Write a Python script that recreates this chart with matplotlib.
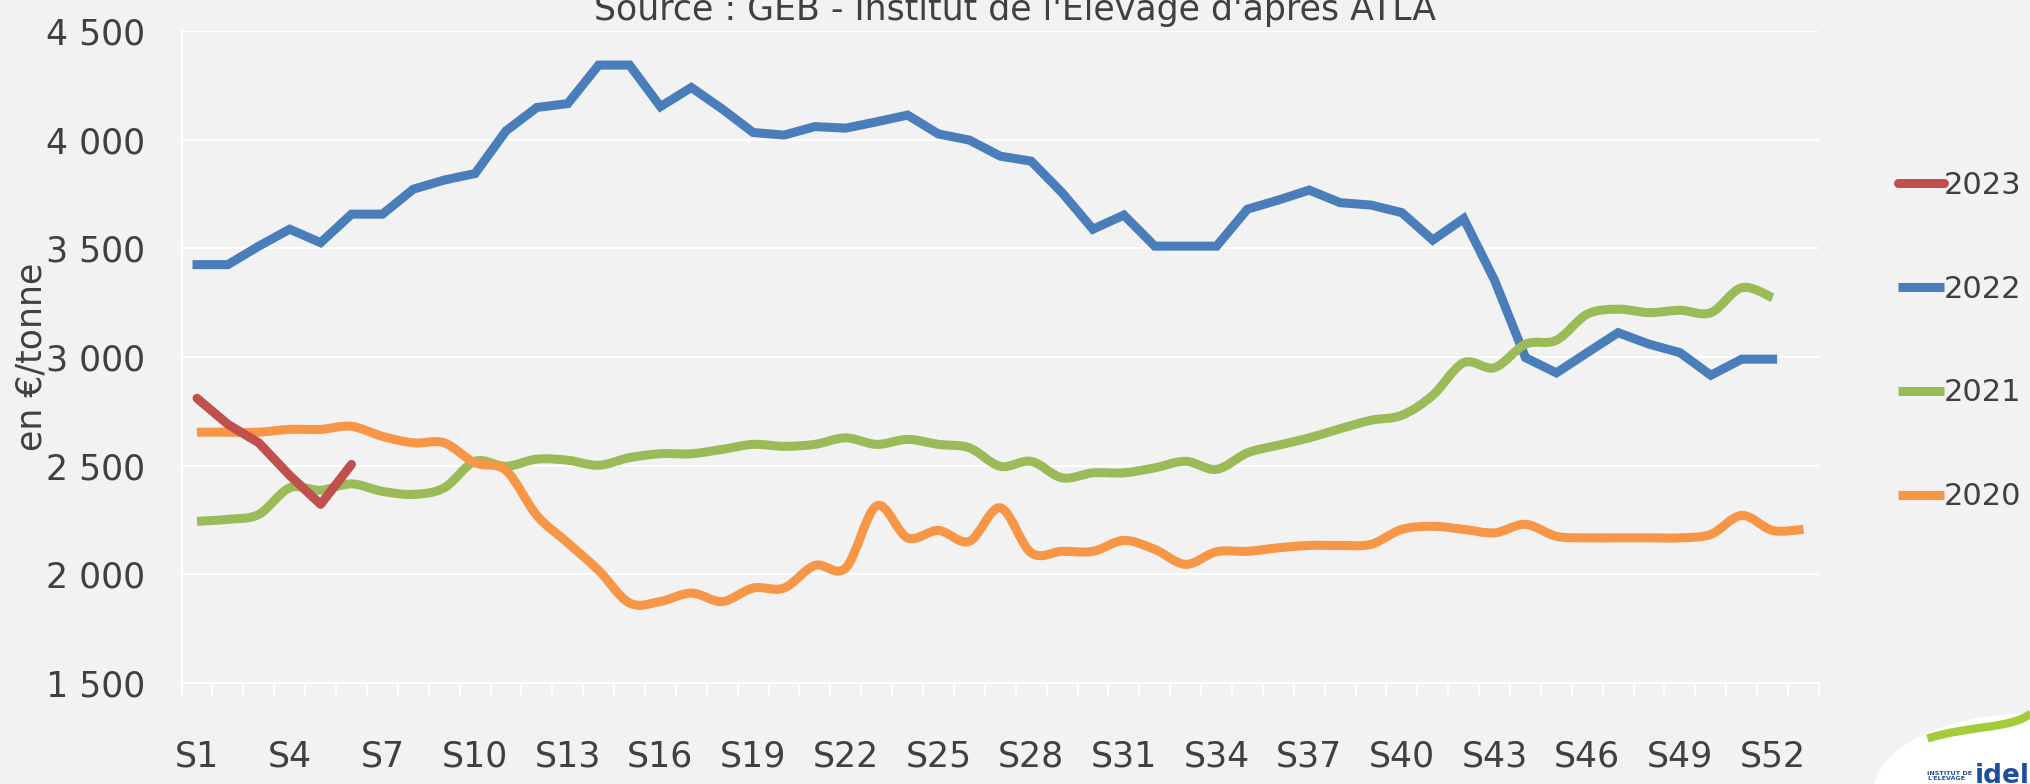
import numpy as np
import matplotlib
matplotlib.use('Agg')
import matplotlib.pyplot as plt
from matplotlib.path import Path
from matplotlib.patches import PathPatch, Ellipse
from matplotlib.lines import Line2D
from matplotlib.ticker import FuncFormatter

# weekly prices, en EUR/tonne
weeks = [f'S{i}' for i in range(1, 54)]

y2023 = [2810, 2690, 2605, 2455, 2322, 2506]

y2022 = [3425, 3425, 3510, 3588, 3526, 3657, 3657, 3772, 3814, 3844,
         4040, 4148, 4166, 4343, 4343, 4152, 4240, 4141, 4033, 4021,
         4060, 4053, 4082, 4113, 4026, 3998, 3924, 3901, 3756, 3588,
         3653, 3510, 3510, 3510, 3680, 3722, 3768, 3710, 3699, 3664,
         3538, 3637, 3353, 2997, 2927, 3020, 3112, 3059, 3020, 2916,
         2990, 2990]

y2021 = [2244, 2253, 2276, 2398, 2387, 2416, 2382, 2368, 2398, 2520,
         2497, 2530, 2525, 2502, 2537, 2555, 2555, 2575, 2598, 2589,
         2598, 2628, 2598, 2621, 2598, 2582, 2497, 2520, 2444, 2467,
         2467, 2490, 2520, 2483, 2559, 2594, 2628, 2670, 2709, 2732,
         2824, 2974, 2951, 3059, 3077, 3197, 3220, 3204, 3215, 3204,
         3319, 3273]

y2020 = [2654, 2654, 2654, 2667, 2667, 2681, 2635, 2605, 2605, 2513,
         2478, 2271, 2145, 2018, 1868, 1875, 1914, 1875, 1937, 1937,
         2041, 2030, 2315, 2168, 2202, 2152, 2306, 2099, 2106, 2106,
         2156, 2115, 2046, 2104, 2106, 2122, 2133, 2133, 2138, 2207,
         2221, 2207, 2191, 2230, 2175, 2168, 2168, 2168, 2168, 2184,
         2271, 2202, 2207]

years = ['2023', '2022', '2021', '2020']
colors = {'2023': '#C0504D', '2022': '#4A7EBB', '2021': '#9BBB59', '2020': '#F79646'}

BG = '#f2f2f2'
TXT = '#404040'
FS = 25
plt.rcParams['font.family'] = ['DejaVu Sans']


def smooth_path(xs, ys):
    # excel-like smoothed line: cubic bezier through every point
    P = np.column_stack([xs, ys]).astype(float)
    n = len(P)
    verts = [P[0]]
    codes = [Path.MOVETO]
    for i in range(n - 1):
        p0 = P[i - 1] if i > 0 else P[i]
        p1, p2 = P[i], P[i + 1]
        p3 = P[i + 2] if i + 2 < n else P[i + 1]
        c1 = p1 + (p2 - p0) / 6.0
        c2 = p2 - (p3 - p1) / 6.0
        verts += [c1, c2, p2]
        codes += [Path.CURVE4] * 3
    return Path(verts, codes)


fig = plt.figure(figsize=(20.31, 7.84), dpi=100, facecolor=BG)
ax = fig.add_axes([0.0894, 0.1288, 0.8062, 0.8317], facecolor=BG)

lw = 6.5
x = lambda s: np.arange(1, len(s) + 1)

ax.plot(x(y2022), y2022, color=colors['2022'], lw=lw, solid_joinstyle='miter', zorder=3)
for key, s in [('2021', y2021), ('2020', y2020)]:
    ax.add_patch(PathPatch(smooth_path(x(s), s), facecolor='none',
                           edgecolor=colors[key], lw=lw, capstyle='butt', zorder=3))
ax.plot(x(y2023), y2023, color=colors['2023'], lw=lw, solid_capstyle='round', zorder=4)

ax.set_xlim(0.5, 53.5)
ax.set_ylim(1500, 4500)
ax.set_yticks(np.arange(1500, 4501, 500))
ax.yaxis.set_major_formatter(FuncFormatter(lambda v, p: f'{int(v):,}'.replace(',', ' ')))
ax.grid(axis='y', color='white', lw=1.5, zorder=1)
ax.tick_params(axis='y', length=0, pad=26, labelsize=FS, labelcolor=TXT)

# ticks between weeks, labels every third week
ax.set_xticks(np.arange(0.5, 54, 1))
ax.set_xticklabels([])
ax.tick_params(axis='x', which='major', length=9, width=1.5, color='white')
ax.set_xticks(np.arange(1, 54, 3), minor=True)
ax.set_xticklabels(weeks[::3], minor=True)
ax.tick_params(axis='x', which='minor', length=0, pad=41, labelsize=FS, labelcolor=TXT)

for side in ['top', 'right']:
    ax.spines[side].set_visible(False)
for side in ['left', 'bottom']:
    ax.spines[side].set_color('white')
    ax.spines[side].set_linewidth(1.5)

ax.set_ylabel('en €/tonne', fontsize=FS, color=TXT)
ax.yaxis.set_label_coords(-0.081, 0.5)

fig.text(0.5, 0.9745, "Source : GEB - Institut de l'Elevage d'après ATLA",
         ha='center', va='baseline', fontsize=FS, color=TXT)

handles = [Line2D([], [], color=colors[k], lw=lw, solid_capstyle='round' if k == '2023' else 'butt')
           for k in years]
fig.legend(handles, years, loc='center left', bbox_to_anchor=(0.9285, 0.565),
           frameon=False, fontsize=22, labelcolor=TXT, handlelength=1.5,
           handletextpad=0.0, labelspacing=2.45, borderaxespad=0)

# idele logo, bottom right corner
fig.patches.append(Ellipse((1.0, -0.01), 0.155, 0.2, transform=fig.transFigure,
                           facecolor='white', edgecolor='none'))
sw = Path([(0.949, 0.058), (0.97, 0.075), (0.99, 0.07), (1.0, 0.09)],
          [Path.MOVETO, Path.CURVE4, Path.CURVE4, Path.CURVE4])
fig.patches.append(PathPatch(sw, transform=fig.transFigure, facecolor='none',
                             edgecolor='#A4CC3A', lw=6))
fig.text(0.949, 0.004, "INSTITUT DE\nL'ELEVAGE", fontsize=4.6, color='#1F4E9E',
         fontweight='bold', ha='left', va='bottom', linespacing=1.0)
fig.text(0.9725, -0.006, 'idel', fontsize=19, color='#1F4E9E', fontweight='bold',
         ha='left', va='bottom')

fig.savefig('out.png', dpi=100, facecolor=BG)
